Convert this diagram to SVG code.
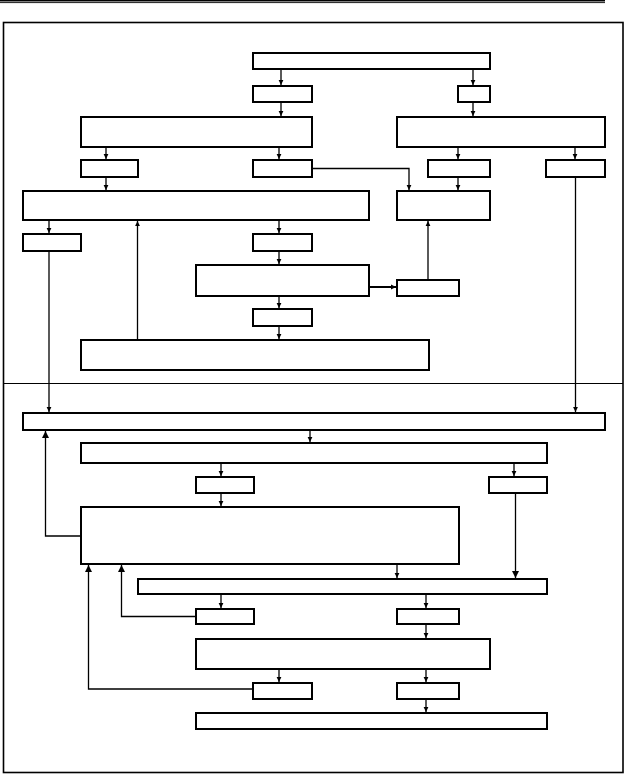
<svg xmlns="http://www.w3.org/2000/svg" width="625" height="774" viewBox="0 0 625 774">
<style>
.box{fill:#fff;stroke:#000;stroke-width:2}
.ln{fill:none;stroke:#000;stroke-width:1.3}
.ln2{fill:none;stroke:#000;stroke-width:2}
</style>
<defs>
<marker id="a" markerWidth="6" markerHeight="6" refX="5" refY="3" orient="auto" markerUnits="userSpaceOnUse"><path d="M0,0.6 L5,3 L0,5.4 Z" fill="#000"/></marker>
<marker id="b" markerWidth="8" markerHeight="8" refX="7" refY="4" orient="auto" markerUnits="userSpaceOnUse"><path d="M0,0.5 L7,4 L0,7.5 Z" fill="#000"/></marker>
</defs>
<rect x="0" y="0" width="625" height="774" fill="#fff"/>
<g id="frame">
<line x1="0" y1="0.7" x2="605" y2="0.7" stroke="#000" stroke-width="1.5"/>
<line x1="0" y1="2.6" x2="605" y2="2.6" stroke="#000" stroke-width="0.9"/>
<rect x="3.5" y="22.5" width="619.5" height="750" fill="none" stroke="#000" stroke-width="1.6"/>
<line x1="3" y1="383.5" x2="623" y2="383.5" stroke="#000" stroke-width="1.2"/>
</g>
<g id="nodes">
<rect id="A" class="box" x="253" y="53" width="237" height="16"/>
<rect id="B1" class="box" x="253" y="86" width="59" height="16"/>
<rect id="B2" class="box" x="458" y="86" width="32" height="16"/>
<rect id="C1" class="box" x="81" y="117" width="231" height="30"/>
<rect id="C2" class="box" x="397" y="117" width="208" height="30"/>
<rect id="D1" class="box" x="81" y="160" width="57" height="17"/>
<rect id="D2" class="box" x="253" y="160" width="59" height="17"/>
<rect id="D3" class="box" x="428" y="160" width="62" height="17"/>
<rect id="D4" class="box" x="546" y="160" width="59" height="17"/>
<rect id="E1" class="box" x="23" y="191" width="346" height="29"/>
<rect id="E2" class="box" x="397" y="191" width="93" height="29"/>
<rect id="F1" class="box" x="23" y="234" width="58" height="17"/>
<rect id="F2" class="box" x="253" y="234" width="59" height="17"/>
<rect id="G1" class="box" x="196" y="265" width="173" height="31"/>
<rect id="G2" class="box" x="397" y="280" width="62" height="16"/>
<rect id="F3" class="box" x="253" y="309" width="59" height="17"/>
<rect id="H" class="box" x="81" y="340" width="348" height="30"/>
<rect id="I" class="box" x="23" y="413" width="582" height="17"/>
<rect id="J" class="box" x="81" y="443" width="466" height="20"/>
<rect id="K1" class="box" x="196" y="477" width="58" height="16"/>
<rect id="K2" class="box" x="489" y="477" width="58" height="16"/>
<rect id="L" class="box" x="81" y="507" width="378" height="57"/>
<rect id="M" class="box" x="138" y="579" width="409" height="15"/>
<rect id="N1" class="box" x="196" y="609" width="58" height="15"/>
<rect id="N2" class="box" x="397" y="609" width="62" height="15"/>
<rect id="O" class="box" x="196" y="639" width="294" height="30"/>
<rect id="P1" class="box" x="253" y="683" width="59" height="16"/>
<rect id="P2" class="box" x="397" y="683" width="62" height="16"/>
<rect id="Q" class="box" x="196" y="713" width="351" height="16"/>
</g>
<g id="connectors">
<line class="ln" x1="281" y1="69" x2="281" y2="85" marker-end="url(#a)"/>
<line class="ln" x1="473" y1="69" x2="473" y2="85" marker-end="url(#a)"/>
<line class="ln" x1="281" y1="102" x2="281" y2="116" marker-end="url(#a)"/>
<line class="ln" x1="473" y1="102" x2="473" y2="116" marker-end="url(#a)"/>
<line class="ln" x1="106" y1="147" x2="106" y2="159" marker-end="url(#a)"/>
<line class="ln" x1="279" y1="147" x2="279" y2="159" marker-end="url(#a)"/>
<line class="ln" x1="458" y1="147" x2="458" y2="159" marker-end="url(#a)"/>
<line class="ln" x1="575" y1="147" x2="575" y2="159" marker-end="url(#a)"/>
<line class="ln" x1="106" y1="177" x2="106" y2="190" marker-end="url(#a)"/>
<line class="ln" x1="458" y1="177" x2="458" y2="190" marker-end="url(#a)"/>
<polyline class="ln" points="312,168.5 409,168.5 409,190" marker-end="url(#a)"/>
<line class="ln" x1="49" y1="220" x2="49" y2="233" marker-end="url(#a)"/>
<line class="ln" x1="279" y1="220" x2="279" y2="233" marker-end="url(#a)"/>
<line class="ln" x1="137.5" y1="339" x2="137.5" y2="221" marker-end="url(#a)"/>
<line class="ln" x1="279" y1="251" x2="279" y2="264" marker-end="url(#a)"/>
<line class="ln2" x1="369" y1="287" x2="396" y2="287" marker-end="url(#a)"/>
<line class="ln" x1="428" y1="279" x2="428" y2="221" marker-end="url(#a)"/>
<line class="ln" x1="279" y1="296" x2="279" y2="308" marker-end="url(#a)"/>
<line class="ln" x1="279" y1="326" x2="279" y2="339" marker-end="url(#a)"/>
<line class="ln" x1="49" y1="251" x2="49" y2="412" marker-end="url(#a)"/>
<line class="ln" x1="575.5" y1="177" x2="575.5" y2="412" marker-end="url(#a)"/>
<line class="ln" x1="310" y1="430" x2="310" y2="442" marker-end="url(#a)"/>
<line class="ln" x1="221" y1="463" x2="221" y2="476" marker-end="url(#a)"/>
<line class="ln" x1="514" y1="463" x2="514" y2="476" marker-end="url(#a)"/>
<line class="ln" x1="221" y1="493" x2="221" y2="506" marker-end="url(#a)"/>
<polyline class="ln" points="81,536 45.5,536 45.5,431" marker-end="url(#b)"/>
<line class="ln" x1="515.5" y1="493" x2="515.5" y2="578" marker-end="url(#b)"/>
<line class="ln" x1="397" y1="564" x2="397" y2="578" marker-end="url(#a)"/>
<polyline class="ln" points="196,616.5 121.5,616.5 121.5,565" marker-end="url(#b)"/>
<polyline class="ln" points="253,689 88.5,689 88.5,565" marker-end="url(#b)"/>
<line class="ln" x1="221" y1="594" x2="221" y2="608" marker-end="url(#a)"/>
<line class="ln" x1="426" y1="594" x2="426" y2="608" marker-end="url(#a)"/>
<line class="ln" x1="426" y1="624" x2="426" y2="638" marker-end="url(#a)"/>
<line class="ln" x1="279" y1="669" x2="279" y2="682" marker-end="url(#a)"/>
<line class="ln" x1="426" y1="669" x2="426" y2="682" marker-end="url(#a)"/>
<line class="ln" x1="426" y1="699" x2="426" y2="712" marker-end="url(#a)"/>
</g>
</svg>
